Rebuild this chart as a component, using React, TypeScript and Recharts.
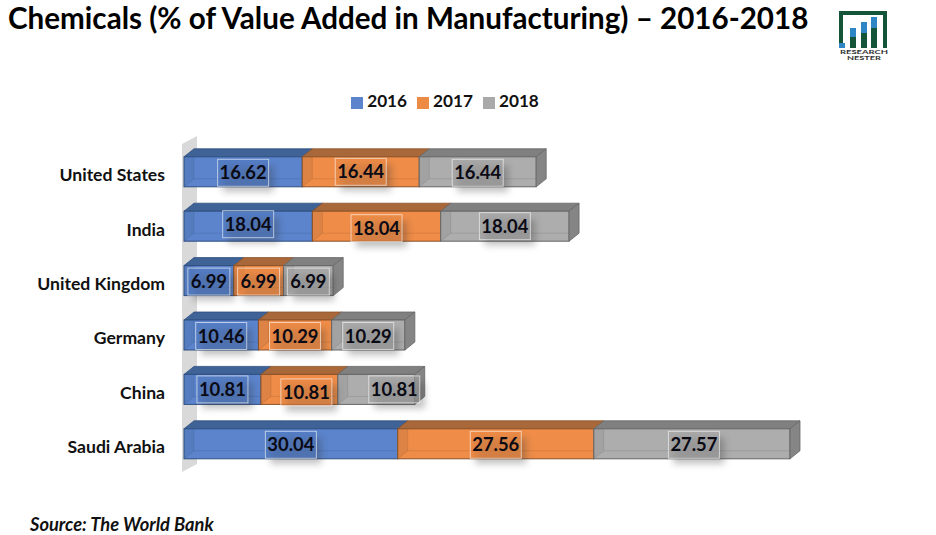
// Chemicals share of manufacturing value added - stacked 3D-look bars
import { BarChart, Bar, XAxis, YAxis, Legend, LabelList } from "recharts";

const countries = ["United States", "India", "United Kingdom", "Germany", "China", "Saudi Arabia"];
const values2016 = [16.62, 18.04, 6.99, 10.46, 10.81, 30.04];
const values2017 = [16.44, 18.04, 6.99, 10.29, 10.81, 27.56];
const values2018 = [16.44, 18.04, 6.99, 10.29, 10.81, 27.57];

const rows = countries.map((name, i) => ({
  name,
  y2016: values2016[i],
  y2017: values2017[i],
  y2018: values2018[i],
}));

const FONT = "Lato, sans-serif";
const DX = 10; // depth of the fake 3D box
const DY = 8;

/* label boxes were hand-placed in the original, so they sit a bit off centre */
const nudge2016 = [[0, 1], [0, -2], [0, 1], [0, 1], [0, 0], [0, 1]];
const nudge2017 = [[0, 0], [0, 2], [0, 1], [0, 1], [7, 3], [0, 1]];
const nudge2018 = [[0, 1], [0, 0], [0, 1], [0, 1], [18, 0], [2, 1]];

const makeBox = (front: string, top: string, edge: string, side: string, last: boolean) => (p: any) => {
  const { x, y, width: w, height: h } = p;
  return (
    <g>
      <polygon points={`${x},${y} ${x + DX},${y - DY} ${x + w + DX},${y - DY} ${x + w},${y}`} fill={top} stroke={edge} strokeWidth={0.8} />
      <rect x={x} y={y} width={w} height={h} fill={front} />
      <polygon points={`${x},${y} ${x + DX},${y} ${x + DX},${y + h - DY} ${x},${y + h}`} fill={side} opacity={0.25} />
      <path d={`M${x + DX} ${y}V${y + h - DY}H${x + w}M${x} ${y + h}L${x + DX} ${y + h - DY}`} fill="none" stroke={edge} strokeOpacity={0.3} strokeWidth={0.7} />
      <rect x={x} y={y} width={w} height={h} fill="none" stroke={edge} strokeWidth={1} />
      {last && (
        <polygon points={`${x + w},${y} ${x + w + DX},${y - DY} ${x + w + DX},${y + h - DY} ${x + w},${y + h}`} fill={side} stroke={edge} strokeWidth={0.8} />
      )}
    </g>
  );
};

const makeLabel = (tint: string, nudges: number[][]) => (p: any) => {
  const { x, y, width: w, height: h, value, index } = p;
  const cx = x + w / 2 + nudges[index][0];
  const cy = y + h / 2 + nudges[index][1];
  const half = Number(value) < 10 ? 21 : 25.5;
  return (
    <g>
      <rect x={cx - half + 5} y={cy - 7} width={half * 2} height={26} fill="#333" opacity={0.3} filter="url(#soft)" />
      <rect x={cx - half} y={cy - 13.5} width={half * 2} height={27} fill={tint} fillOpacity={0.55} stroke="#fff" strokeOpacity={0.6} strokeWidth={1} />
      <text x={cx} y={cy + 6.5} textAnchor="middle" fontFamily={FONT} fontWeight={700} fontSize={18.4} fill="#0a0a14">
        {Number(value).toFixed(2)}
      </text>
    </g>
  );
};

export default function App() {
  return (
    <div style={{ position: "absolute", left: 0, top: 0, width: 936, height: 535, background: "#fff", overflow: "hidden" }}>
      <div style={{ position: "absolute", left: 8, top: 0, fontFamily: FONT, fontWeight: 700, fontSize: 29.6, color: "#000", whiteSpace: "nowrap" }}>
        Chemicals (% of Value Added in Manufacturing) – 2016-2018
      </div>

      {/* logo */}
      <svg width={936} height={535} style={{ position: "absolute", left: 0, top: 0 }}>
        <path d="M839 48V11H887V48H883V15H843V48Z" fill="#14553a" />
        <rect x={850} y={28} width={6} height={20} fill="#14553a" />
        <rect x={850} y={28} width={6} height={9} fill="#2f86c5" />
        <rect x={861} y={22} width={6} height={26} fill="#14553a" />
        <rect x={861} y={22} width={6} height={11} fill="#2f86c5" />
        <rect x={871} y={17} width={6} height={31} fill="#14553a" />
        <rect x={871} y={17} width={6} height={11} fill="#2f86c5" />
        <polygon points="839,48 839,43 845,43 845,48" fill="#2f86c5" />
        <text x={840} y={54} textLength={48} lengthAdjust="spacingAndGlyphs" fontFamily={FONT} fontWeight={700} fontSize={6} fill="#333">RESEARCH</text>
        <text x={847} y={59.5} textLength={34} lengthAdjust="spacingAndGlyphs" fontFamily={FONT} fontWeight={700} fontSize={6} fill="#333">NESTER</text>
        {/* side wall of the 3D plot */}
        <polygon points="182,144 197,136 197,464 182,472" fill="#d9d9d9" />
      </svg>

      <div style={{ position: "absolute", left: 0, top: 0 }}>
        <BarChart
          width={936}
          height={535}
          data={rows}
          layout="vertical"
          barSize={30}
          margin={{ top: 144.8, right: 40.5, bottom: 63.8, left: 0 }}
        >
          <defs>
            <filter id="soft" x="-40%" y="-60%" width="180%" height="220%">
              <feGaussianBlur stdDeviation="3.5" />
            </filter>
          </defs>
          <XAxis type="number" hide domain={[0, 100]} />
          <YAxis
            type="category"
            dataKey="name"
            width={184}
            axisLine={false}
            tickLine={false}
            tickMargin={13}
            interval={0}
            dy={3}
            tick={{ fontFamily: FONT, fontWeight: 700, fontSize: 17.6, fill: "#111" }}
          />
          <Legend
            layout="horizontal"
            verticalAlign="middle"
            align="center"
            iconType="square"
            iconSize={12}
            wrapperStyle={{ top: 90, left: 5, width: 890, fontFamily: FONT, fontWeight: 700, fontSize: 17.2 }}
            formatter={(v: string) => <span style={{ color: "#111" }}>{v}</span>}
          />
          <Bar name="2016" dataKey="y2016" stackId="a" fill="#5b84cc" isAnimationActive={false}
            shape={makeBox("#5b84cc", "#3f6297", "#2f4f80", "#3f6297", false)}>
            <LabelList dataKey="y2016" content={makeLabel("#5078c0", nudge2016)} />
          </Bar>
          <Bar name="2017" dataKey="y2017" stackId="a" fill="#ed8b45" isAnimationActive={false}
            shape={makeBox("#ee8c48", "#a9683a", "#8a5228", "#a9683a", false)}>
            <LabelList dataKey="y2017" content={makeLabel("#ec8a45", nudge2017)} />
          </Bar>
          <Bar name="2018" dataKey="y2018" stackId="a" fill="#a9a9a9" isAnimationActive={false}
            shape={makeBox("#adadad", "#808080", "#666", "#858585", true)}>
            <LabelList dataKey="y2018" content={makeLabel("#a6a6a6", nudge2018)} />
          </Bar>
        </BarChart>
      </div>

      <div style={{ position: "absolute", left: 30, top: 513, fontFamily: FONT, fontWeight: 700, fontStyle: "italic", fontSize: 18.3, color: "#111" }}>
        Source: The World Bank
      </div>
    </div>
  );
}
